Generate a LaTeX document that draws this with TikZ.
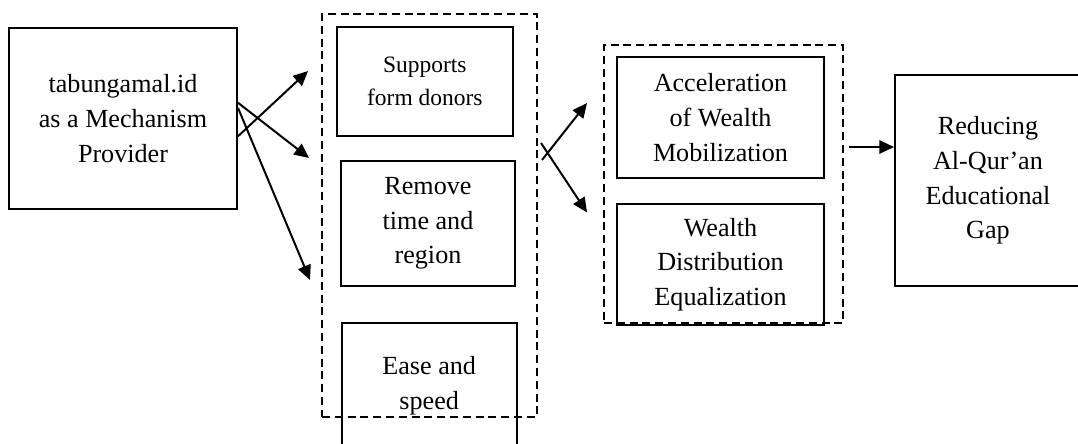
\documentclass[tikz,border=0pt]{standalone}
\usepackage{fontspec}
\setmainfont{Liberation Serif}
\usetikzlibrary{arrows.meta,calc}
\newcommand\bigtxt{\fontsize{19.6}{26}\selectfont}
\newcommand\smalltxt{\fontsize{17.6}{24.8}\selectfont}
\tikzset{
  box/.style={draw, line width=1.5pt, inner sep=0pt, align=center, font=\bigtxt},
  dbox/.style={draw, line width=1.4pt, inner sep=0pt, dash pattern=on 6pt off 3.6pt},
  arr/.style={line width=1.5pt, -{Triangle[length=11pt,width=10pt]}}
}
\begin{document}
\begin{tikzpicture}[x=0.75pt,y=-0.75pt]
\useasboundingbox (0,0) rectangle (1078,443);
\clip (0,0) rectangle (1078,443);
\fill[white] (0,0) rectangle (1078,443);
% left box
\node[box, minimum width=171pt, minimum height=135.75pt] (prov) at (123,118.5) {tabungamal.id\\as a Mechanism\\Provider};
% first group
\node[dbox, minimum width=161.25pt, minimum height=302.25pt] (grp1) at (429.5,215.5) {};
\node[box, font=\smalltxt, minimum width=131.8pt, minimum height=81.75pt] (supp) at (424.85,81.5) {Supports\\form donors};
\node[box, minimum width=130.5pt, minimum height=93.75pt] (remv) at (428,223.5) {Remove\\time and\\region};
\node[box, minimum width=131.25pt, minimum height=95pt] (ease) at (429.2,386) {Ease and\\speed};
% second group
\node[dbox, minimum width=179.5pt, minimum height=208.7pt] (grp2) at (723.65,184.15) {};
\node[box, minimum width=155.7pt, minimum height=91.2pt] (accl) at (720.5,117.5) {Acceleration\\of Wealth\\Mobilization};
\node[box, minimum width=155.7pt, minimum height=90.75pt] (dist) at (720.5,264.5) {Wealth\\Distribution\\Equalization};
% result
\node[box, minimum width=139.5pt, minimum height=158.25pt] (redu) at (988,180.5) {Reducing\\Al-Qur’an\\Educational\\Gap};
% free ends
\coordinate (t1) at (308,71);
\coordinate (t2) at (309,158);
\coordinate (t3) at (310,280);
\coordinate (u1) at (542,160);
\coordinate (u2) at (541,143);
\coordinate (v1) at (587,103);
\coordinate (v2) at (587,212.5);
\coordinate (w) at (849,147);
% connectors
\draw[arr] ($(prov.north east)!0.597!(prov.south east)$) -- (t1);
\draw[arr] ($(prov.north east)!0.414!(prov.south east)$) -- (t2);
\draw[arr] ($(prov.north east)!0.442!(prov.south east)$) -- (t3);
\draw[arr] (u1) -- (v1);
\draw[arr] (u2) -- (v2);
\draw[arr] (w) -- (redu.west |- w);
\end{tikzpicture}
\end{document}
